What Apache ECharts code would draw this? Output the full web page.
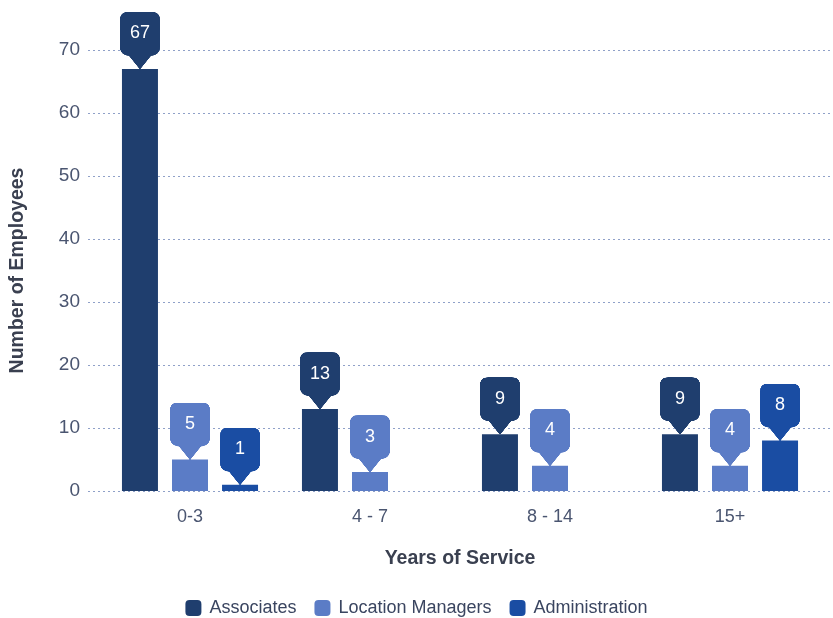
<!DOCTYPE html>
<html><head><meta charset="utf-8">
<script src="https://cdn.jsdelivr.net/npm/echarts@6/dist/echarts.min.js"></script>
<style>html,body{margin:0;padding:0;background:#fff}#c{width:833px;height:618px}</style>
</head><body><div id="c"></div>
<script>
const categories = ['0-3', '4 - 7', '8 - 14', '15+'];
const associates = [67, 13, 9, 9];
const locationManagers = [5, 3, 4, 4];
const administration = [1, null, null, 8];
const yTicks = [0, 10, 20, 30, 40, 50, 60, 70];
const seriesNames = ['Associates', 'Location Managers', 'Administration'];
const colors = ['#1f3e6e', '#5b7cc6', '#1a4da3'];

function balloon(color) {
  const s = 3, w = 40, h = 57;
  const c = document.createElement('canvas');
  c.width = w * s; c.height = h * s;
  const g = c.getContext('2d');
  g.scale(s, s);
  g.beginPath();
  g.moveTo(8, 0); g.lineTo(32, 0);
  g.quadraticCurveTo(40, 0, 40, 8);
  g.lineTo(40, 35);
  g.quadraticCurveTo(40, 43, 31, 44);
  g.lineTo(20.5, 57); g.lineTo(19.5, 57);
  g.lineTo(9, 44);
  g.quadraticCurveTo(0, 43, 0, 35);
  g.lineTo(0, 8);
  g.quadraticCurveTo(0, 0, 8, 0);
  g.closePath();
  g.fillStyle = color; g.fill();
  return c;
}

const font = 'Liberation Sans, Arial, sans-serif';
const chart = echarts.init(document.getElementById('c'));

function barSeries(i, data) {
  return {
    name: seriesNames[i], type: 'bar', xAxisIndex: 1, yAxisIndex: 1,
    data: data, barWidth: 36, barGap: '39%',
    itemStyle: { color: colors[i] },
    label: {
      show: true, position: 'top', distance: 0,
      color: '#fff', fontSize: 18, fontFamily: font,
      width: 40, height: 43, lineHeight: 43, padding: [0, 0, 14, 0],
      backgroundColor: { image: balloon(colors[i]) }
    }
  };
}

chart.setOption({
  animation: false,
  textStyle: { fontFamily: font },
  grid: [
    { left: 88, right: 0, top: 50, bottom: 127 },
    { left: 100, right: 13, top: 50, bottom: 127 }
  ],
  legend: {
    top: 594, left: 'center', itemWidth: 16, itemHeight: 16, itemGap: 18,
    icon: 'roundRect',
    textStyle: { fontSize: 18, color: '#3a4560', fontFamily: font, padding: [0, 0, 0, 3] },
    data: seriesNames
  },
  xAxis: [
    { gridIndex: 0, type: 'value', show: false, min: 0, max: 1 },
    {
      gridIndex: 1, type: 'category', data: categories,
      axisLine: { show: false }, axisTick: { show: false },
      axisLabel: { fontSize: 18, color: '#4a5570', margin: 17, fontFamily: font },
      name: 'Years of Service', nameLocation: 'middle', nameGap: 58,
      nameTextStyle: { fontSize: 19.5, fontWeight: 'bold', color: '#3a4050', fontFamily: font }
    }
  ],
  yAxis: [
    {
      gridIndex: 0, type: 'value', min: yTicks[0], max: yTicks[yTicks.length - 1], interval: 10,
      axisLine: { show: false }, axisTick: { show: false },
      axisLabel: { fontSize: 19, color: '#4a5570', margin: 8, fontFamily: font },
      splitLine: { lineStyle: { type: [2, 3], color: '#8fa0c8', width: 1.2 } },
      name: 'Number of Employees', nameLocation: 'middle', nameGap: 60,
      nameTextStyle: { fontSize: 19.5, fontWeight: 'bold', color: '#3a4050', fontFamily: font }
    },
    {
      gridIndex: 1, type: 'value', min: yTicks[0], max: yTicks[yTicks.length - 1], interval: 10,
      show: false, splitLine: { show: false }
    }
  ],
  series: [
    barSeries(0, associates),
    barSeries(1, locationManagers),
    barSeries(2, administration)
  ]
});
</script></body></html>
